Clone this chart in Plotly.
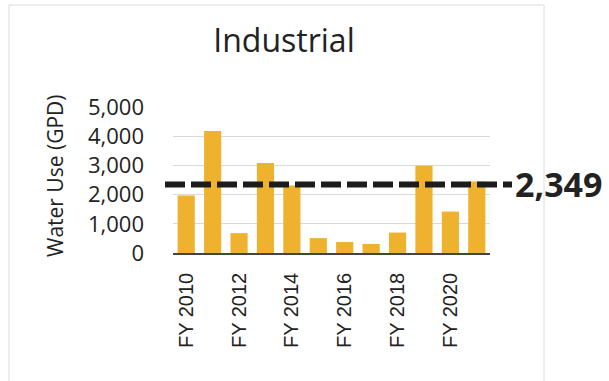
import plotly.graph_objects as go

years = ["FY 2010", "FY 2011", "FY 2012", "FY 2013", "FY 2014", "FY 2015",
         "FY 2016", "FY 2017", "FY 2018", "FY 2019", "FY 2020", "FY 2021"]
water_use = [1970, 4180, 680, 3080, 2310, 510, 375, 310, 700, 2990, 1420, 2450]
average = 2349
tick_labels = ["FY 2010", "FY 2012", "FY 2014", "FY 2016", "FY 2018", "FY 2020"]
y_ticks = [0, 1000, 2000, 3000, 4000, 5000]

W, H = 609, 381
L, R, T, B = 173, 119, 107, 128
pw, ph = W - L - R, H - T - B

def px(x):
    return (x - L) / pw

def py(y):
    return (H - B - y) / ph

fig = go.Figure()
fig.add_trace(go.Bar(x=years, y=water_use, marker_color="#EFB22E",
                     marker_line_width=0))

fig.add_shape(type="line", xref="paper", yref="y", x0=px(165), x1=px(512),
              y0=average, y1=average,
              line=dict(color="#1c1c1c", width=6, dash="20px,6px"))
fig.add_annotation(xref="paper", yref="y", x=px(513), y=average,
                   text=f"{average:,}", showarrow=False, xanchor="left",
                   yanchor="middle",
                   font=dict(family="Open Sans", size=34, color="#222222",
                             weight="bold"))
fig.add_annotation(xref="paper", yref="paper", x=px(55), y=py(176),
                   text="Water Use (GPD)", textangle=-90, showarrow=False,
                   xanchor="center", yanchor="middle",
                   font=dict(family="Open Sans", size=21, color="#222222"))
fig.add_shape(type="rect", xref="paper", yref="paper", x0=px(9), x1=px(544),
              y0=py(390), y1=py(5), line=dict(color="#dcdcdc", width=1),
              layer="below")

fig.update_layout(
    width=W, height=H, margin=dict(l=L, r=R, t=T, b=B),
    paper_bgcolor="white", plot_bgcolor="white",
    showlegend=False, bargap=0.35,
    title=dict(text="Industrial", x=284 / W, y=1 - 41 / H, xanchor="center",
               yanchor="middle", xref="container", yref="container",
               font=dict(family="Open Sans", size=32, color="#222222")),
    xaxis=dict(type="category", tickvals=tick_labels, ticktext=tick_labels,
               tickangle=-90, ticks="", showline=True, linecolor="#444444",
               linewidth=1.5, ticklabelstandoff=10,
               tickfont=dict(family="Liberation Sans", size=20, color="#222222")),
    yaxis=dict(range=[0, 5000], tickvals=y_ticks, tickformat=",",
               showgrid=True, gridcolor="#d9d9d9", gridwidth=1,
               zeroline=False, ticks="", ticklabelstandoff=28,
               tickfont=dict(family="Open Sans", size=22, color="#222222")),
)

fig.write_html("out.html")
